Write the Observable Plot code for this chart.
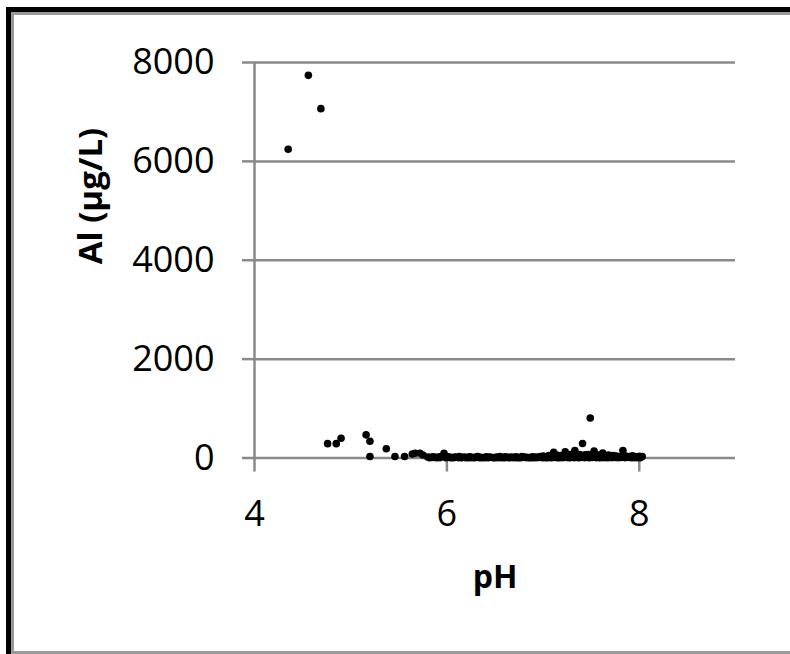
<!DOCTYPE html>
<html>
<head>
<meta charset="utf-8">
<script src="https://cdn.jsdelivr.net/npm/d3@7"></script>
<script src="https://cdn.jsdelivr.net/npm/@observablehq/plot@0.6"></script>
<style>
  html, body { margin: 0; padding: 0; background: #fff; overflow: hidden; }
  #wrap { position: relative; width: 790px; height: 654px; }
  #chart { position: absolute; left: 0; top: 0; }
  .b { position: absolute; }
</style>
</head>
<body>
<div id="wrap">
  <div id="chart"></div>
  <div class="b" style="left:6px;top:7px;width:784px;height:5px;background:#000"></div>
  <div class="b" style="left:6px;top:7px;width:5px;height:647px;background:#000"></div>
  <div class="b" style="left:11px;top:12px;width:779px;height:3px;background:#9a9a9a"></div>
  <div class="b" style="left:11px;top:12px;width:3px;height:642px;background:#9a9a9a"></div>
  <div class="b" style="left:14px;top:651px;width:776px;height:3px;background:#9a9a9a"></div>
</div>
<script>
// pH values
const phValues = [
  4.35, 4.56, 4.69,
  4.76, 4.85, 4.90, 5.16, 5.20, 5.20, 5.37, 5.46, 5.56, 5.64, 5.67, 5.72, 5.75,
  5.80, 5.83, 5.86, 5.88, 5.91, 5.94, 5.97, 6.00, 6.02, 6.05, 6.08, 6.10, 6.13, 6.16, 6.18,
  6.21, 6.24, 6.27, 6.30, 6.32, 6.35, 6.38, 6.41, 6.44, 6.46, 6.49, 6.52, 6.55, 6.58, 6.61,
  6.63, 6.66, 6.69, 6.72, 6.75, 6.78, 6.80, 6.83, 6.86, 6.89, 6.92, 6.95, 6.97, 7.00, 7.02,
  7.04, 7.06, 7.08, 7.11, 7.12, 7.14, 7.16, 7.18, 7.20, 7.23, 7.24, 7.26, 7.28, 7.30, 7.31,
  7.33, 7.35, 7.36, 7.38, 7.40, 7.41, 7.42, 7.44, 7.45, 7.47, 7.49, 7.50, 7.52, 7.53, 7.54,
  7.56, 7.58, 7.60, 7.62, 7.64, 7.66, 7.68, 7.70, 7.73, 7.76, 7.79, 7.83, 7.86, 7.90, 7.93,
  7.96, 8.00, 8.03,
  5.82, 5.85, 5.90, 5.93, 5.99, 6.04, 6.07, 6.12, 6.15, 6.20, 6.23, 6.26, 6.29, 6.34, 6.37,
  6.40, 6.43, 6.48, 6.51, 6.54, 6.57, 6.60, 6.65, 6.68, 6.71, 6.74, 6.77, 6.82, 6.85, 6.88,
  6.91, 6.94, 6.99, 7.01, 7.03, 7.05, 7.07, 7.09, 7.13, 7.15, 7.17, 7.19, 7.21, 7.25, 7.27,
  7.29, 7.32, 7.34, 7.37, 7.39, 7.43, 7.46, 7.48, 7.51, 7.55, 7.57, 7.59, 7.61, 7.63, 7.65,
  7.67, 7.69, 7.72, 7.75, 7.78, 7.81, 7.85, 7.88, 7.92, 7.95, 7.98, 8.01
];
// Al values (µg/L)
const alValues = [
  6245, 7740, 7066,
  290, 290, 400, 468, 340, 30, 186, 30, 30, 80, 97, 97, 60,
  20, 15, 25, 10, 20, 30, 97, 15, 25, 10, 20, 15, 30, 10, 20,
  15, 25, 10, 20, 30, 15, 10, 25, 20, 15, 10, 20, 30, 15, 25,
  10, 20, 15, 25, 10, 30, 20, 15, 10, 25, 20, 15, 30, 40, 20,
  30, 50, 25, 117, 40, 60, 30, 50, 35, 125, 60, 40, 70, 50, 30,
  150, 60, 45, 70, 55, 293, 40, 65, 50, 70, 810, 60, 45, 140, 70,
  50, 60, 40, 100, 55, 45, 60, 35, 50, 40, 30, 150, 40, 30, 45,
  25, 35, 30,
  5, 10, 5, 8, 5, 6, 4, 8, 5, 6, 4, 8, 5, 6, 4,
  8, 5, 6, 4, 8, 5, 6, 4, 8, 5, 6, 4, 8, 5, 6,
  4, 8, 5, 10, 6, 8, 12, 6, 10, 8, 6, 12, 8, 10, 6,
  12, 8, 10, 6, 12, 8, 10, 6, 12, 8, 10, 6, 12, 8, 10,
  6, 12, 8, 10, 6, 12, 8, 10, 6, 8, 5, 6
];
const xTicks = [4, 6, 8];
const yTicks = [0, 2000, 4000, 6000, 8000];
const xTitle = "pH";
const yTitle = "Al (µg/L)";

const data = phValues.map((ph, i) => ({ph, al: alValues[i]}));
const gray = "#8a8a8a";

const chart = Plot.plot({
  width: 790,
  height: 654,
  marginLeft: 254,
  marginRight: 55,
  marginTop: 62,
  marginBottom: 196.5,
  x: {domain: [4, 9]},
  y: {domain: [0, 8000]},
  style: {fontFamily: "'Open Sans', sans-serif", background: "transparent", color: "black"},
  marks: [
    Plot.ruleY(yTicks, {stroke: gray, strokeWidth: 2.5}),
    Plot.ruleX([4], {stroke: gray, strokeWidth: 2.5}),
    Plot.axisY({ticks: yTicks, tickSize: 12, tickPadding: 28, tickFormat: "d", stroke: gray, strokeWidth: 2.5, fill: "black", fontSize: 36, label: null}),
    Plot.axisX({ticks: xTicks, tickSize: 14, tickPadding: 28, tickFormat: "d", stroke: gray, strokeWidth: 2.5, fill: "black", fontSize: 36, label: null}),
    Plot.dot(data, {x: "ph", y: "al", r: 3.8, fill: "black", stroke: null}),
    Plot.text([xTitle], {text: d => d, frameAnchor: "bottom", dy: 107, lineAnchor: "top", fontSize: 32, fontWeight: "bold", fill: "black"}),
    Plot.text([yTitle], {text: d => d, frameAnchor: "left", dx: -153, dy: 4, rotate: -90, lineAnchor: "bottom", fontSize: 33, fontWeight: "bold", fill: "black"})
  ]
});
document.getElementById("chart").appendChild(chart);
</script>
</body>
</html>
